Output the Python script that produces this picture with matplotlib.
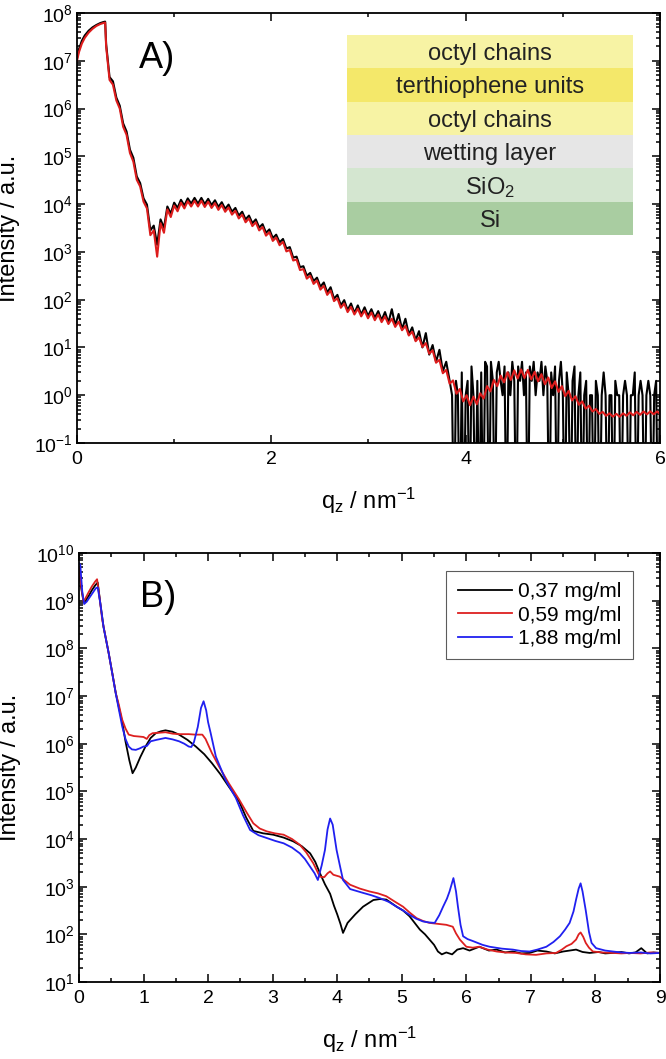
import numpy as np
import matplotlib
matplotlib.use("Agg")
import matplotlib.pyplot as plt
from matplotlib.patches import Rectangle
from matplotlib.ticker import LogLocator, MultipleLocator, NullFormatter

plt.rcParams['font.family'] = ['Liberation Sans', 'DejaVu Sans']
plt.rcParams['mathtext.fontset'] = 'custom'
plt.rcParams['mathtext.rm'] = 'Liberation Sans'
plt.rcParams['mathtext.it'] = 'Liberation Sans:italic'
plt.rcParams['mathtext.bf'] = 'Liberation Sans:bold'
plt.rcParams['mathtext.default'] = 'regular'
plt.rcParams['axes.unicode_minus'] = False

# ---------------- panel A : reflectivity + fit (log10 intensity) ----------------
# low-q part (below the critical edge)
low_q = [0.00, 0.02, 0.05, 0.08, 0.12, 0.16, 0.20, 0.24, 0.27, 0.29]
fit_low_log = [7.00, 7.18, 7.36, 7.48, 7.59, 7.67, 7.73, 7.77, 7.79, 7.80]
meas_low_log = [7.05, 7.24, 7.42, 7.53, 7.63, 7.70, 7.75, 7.79, 7.81, 7.82]

# fringe part, sampled every 0.035 nm^-1 starting at 0.30
fringe_q0 = 0.30
fringe_dq = 0.035
fit_fringe_log = [
    7.30, 6.60, 6.50, 6.17, 6.00, 5.62, 5.45, 5.07, 4.89, 4.51,
    4.37, 4.05, 3.91, 3.35, 3.45, 2.90, 3.60, 3.40, 3.89, 3.73,
    3.97, 3.85, 4.03, 3.91, 4.06, 3.95, 4.07, 3.95, 4.07, 3.94,
    4.05, 3.92, 4.02, 3.88, 3.98, 3.84, 3.93, 3.78, 3.86, 3.70,
    3.78, 3.62, 3.70, 3.54, 3.62, 3.45, 3.52, 3.34, 3.41, 3.23,
    3.30, 3.14, 3.21, 3.01, 3.04, 2.82, 2.84, 2.62, 2.64, 2.44,
    2.50, 2.33, 2.40, 2.21, 2.29, 2.10, 2.19, 1.97, 2.03, 1.83,
    1.92, 1.74, 1.85, 1.69, 1.81, 1.65, 1.77, 1.61, 1.73, 1.57,
    1.69, 1.53, 1.65, 1.49, 1.60, 1.43, 1.54, 1.36, 1.45, 1.25,
    1.33, 1.13, 1.21, 1.01, 1.09, 0.87, 0.94, 0.68, 0.74, 0.46,
    0.53, 0.24, 0.31, 0.03, 0.13, -0.13, 0.00, -0.21, -0.03, -0.19,
    0.04, -0.07, 0.19, 0.08, 0.32, 0.19, 0.41, 0.27, 0.48, 0.32,
    0.52, 0.35, 0.54, 0.36, 0.53, 0.33, 0.49, 0.29, 0.44, 0.23,
    0.37, 0.15, 0.29, 0.07, 0.19, -0.02, 0.09, -0.11, -0.02, -0.20,
    -0.13, -0.28, -0.22, -0.34, -0.29, -0.39, -0.35, -0.43, -0.38, -0.45,
    -0.39, -0.45, -0.38, -0.43, -0.36, -0.42, -0.35, -0.41, -0.34, -0.40,
    -0.34, -0.40, -0.34, -0.40,
]
meas_fringe_log = [
    7.35, 6.66, 6.57, 6.23, 6.06, 5.69, 5.52, 5.14, 4.97, 4.58,
    4.44, 4.12, 3.99, 3.45, 3.55, 3.15, 3.68, 3.50, 3.95, 3.80,
    4.03, 3.92, 4.09, 3.97, 4.12, 4.01, 4.13, 4.01, 4.13, 4.00,
    4.11, 3.98, 4.08, 3.94, 4.04, 3.90, 3.99, 3.84, 3.92, 3.76,
    3.84, 3.68, 3.76, 3.60, 3.68, 3.51, 3.58, 3.40, 3.47, 3.29,
    3.36, 3.20, 3.27, 3.07, 3.10, 2.88, 2.90, 2.68, 2.70, 2.50,
    2.56, 2.39, 2.46, 2.27, 2.36, 2.15, 2.26, 2.02, 2.10, 1.88,
    1.99, 1.78, 1.92, 1.72, 1.88, 1.69, 1.84, 1.66, 1.80, 1.62,
    1.76, 1.57, 1.74, 1.52, 1.80, 1.46, 1.70, 1.38, 1.60, 1.27,
    1.42, 1.15, 1.34, 1.00, 1.30, 0.85, 1.05, 0.70, 0.95, 0.50,
    0.70, 0.30,
]

# high-q tail of the measurement: raw counts every 0.02 nm^-1 from 3.86
tail_q0 = 3.86
tail_dq = 0.02
meas_tail_counts = [
    1, 0, 2, 1, 0, 3, 0, 1, 2, 0,
    4, 1, 0, 2, 0, 3, 0, 5, 4, 0,
    5, 2, 0, 3, 5, 2, 1, 4, 0, 3,
    1, 5, 2, 0, 4, 2, 5, 1, 3, 0,
    4, 2, 5, 1, 3, 2, 5, 1, 4, 2,
    0, 3, 1, 4, 0, 2, 5, 1, 0, 3,
    1, 0, 2, 4, 0, 1, 3, 0, 1, 2,
    0, 1, 1, 0, 2, 1, 0, 1, 3, 1,
    0, 1, 1, 0, 2, 1, 1, 0, 1, 2,
    1, 0, 1, 1, 3, 0, 1, 2, 1, 0,
    1, 2, 1, 0, 1, 2, 0, 1,
]

fit_q = low_q + list(fringe_q0 + fringe_dq * np.arange(len(fit_fringe_log)))
fit_I = 10.0 ** np.array(fit_low_log + fit_fringe_log)

meas_q = (low_q + list(fringe_q0 + fringe_dq * np.arange(len(meas_fringe_log)))
          + list(tail_q0 + tail_dq * np.arange(len(meas_tail_counts))))
meas_I = np.concatenate([10.0 ** np.array(meas_low_log + meas_fringe_log),
                         np.where(np.array(meas_tail_counts) > 0, meas_tail_counts, 1e-3)])

layer_names = ['octyl chains', 'terthiophene units', 'octyl chains',
               'wetting layer', 'SiO$_2$', 'Si']
layer_colors = ['#f7f3a4', '#f4e86a', '#f7f3a4', '#e6e6e6', '#d4e6d0', '#a9cda1']

# ---------------- panel B : three concentrations (log10 intensity) ----------------
labels_B = ['0,37 mg/ml', '0,59 mg/ml', '1,88 mg/ml']
colors_B = ['#000000', '#dd2020', '#2020f0']

q_037 = [0.00, 0.03, 0.07, 0.10, 0.15, 0.20, 0.25, 0.29, 0.33, 0.38,
         0.46, 0.52, 0.57, 0.62, 0.67, 0.72, 0.78, 0.83, 0.88, 0.95,
         1.03, 1.11, 1.19, 1.27, 1.34, 1.45, 1.55, 1.68, 1.81, 1.94,
         2.06, 2.19, 2.32, 2.48, 2.59, 2.70, 2.85, 3.01, 3.17, 3.32,
         3.45, 3.58, 3.66, 3.73, 3.81, 3.89, 3.95, 4.00, 4.05, 4.09,
         4.16, 4.28, 4.40, 4.56, 4.66, 4.76, 4.92, 5.02, 5.12, 5.20,
         5.28, 5.36, 5.43, 5.50, 5.56, 5.62, 5.69, 5.78, 5.86, 5.95,
         6.05, 6.20, 6.35, 6.47, 6.60, 6.72, 6.85, 6.98, 7.10, 7.24,
         7.37, 7.50, 7.60, 7.70, 7.80, 7.91, 8.05, 8.15, 8.27, 8.40,
         8.52, 8.62, 8.71, 8.80, 8.90, 9.00]
log_037 = [9.60, 9.30, 8.98, 9.00, 9.10, 9.22, 9.32, 9.38, 8.95, 8.45,
           7.90, 7.45, 7.06, 6.75, 6.45, 6.05, 5.65, 5.38, 5.50, 5.72,
           5.94, 6.12, 6.22, 6.26, 6.28, 6.25, 6.19, 6.08, 5.94, 5.78,
           5.59, 5.36, 5.10, 4.79, 4.45, 4.17, 4.12, 4.09, 4.03, 3.95,
           3.85, 3.70, 3.52, 3.29, 3.05, 2.85, 2.60, 2.42, 2.22, 2.03,
           2.24, 2.42, 2.58, 2.72, 2.74, 2.73, 2.58, 2.50, 2.38, 2.24,
           2.10, 2.00, 1.89, 1.78, 1.64, 1.58, 1.62, 1.58, 1.68, 1.71,
           1.66, 1.74, 1.66, 1.68, 1.62, 1.64, 1.60, 1.61, 1.66, 1.64,
           1.60, 1.64, 1.66, 1.68, 1.63, 1.61, 1.63, 1.60, 1.61, 1.63,
           1.60, 1.62, 1.71, 1.60, 1.62, 1.61]

q_059 = [0.00, 0.03, 0.07, 0.10, 0.15, 0.20, 0.25, 0.28, 0.32, 0.36,
         0.46, 0.57, 0.62, 0.67, 0.72, 0.77, 0.85, 0.93, 1.00, 1.05,
         1.09, 1.14, 1.25, 1.34, 1.45, 1.55, 1.70, 1.80, 1.91, 1.96,
         2.06, 2.17, 2.32, 2.48, 2.60, 2.70, 2.80, 2.91, 3.03, 3.17,
         3.30, 3.42, 3.52, 3.63, 3.73, 3.80, 3.85, 3.89, 3.94, 4.04,
         4.20, 4.35, 4.50, 4.63, 4.76, 4.90, 5.02, 5.12, 5.23, 5.33,
         5.43, 5.56, 5.69, 5.79, 5.84, 5.90, 6.00, 6.10, 6.20, 6.33,
         6.47, 6.60, 6.77, 6.92, 7.08, 7.24, 7.39, 7.48, 7.55, 7.63,
         7.70, 7.74, 7.77, 7.81, 7.85, 7.90, 7.96, 8.10, 8.27, 8.40,
         8.53, 8.70, 8.85, 9.00]
log_059 = [9.69, 9.35, 8.98, 9.05, 9.18, 9.30, 9.40, 9.45, 9.05, 8.60,
           7.90, 7.06, 6.80, 6.50, 6.32, 6.19, 6.16, 6.15, 6.14, 6.10,
           6.18, 6.22, 6.23, 6.24, 6.21, 6.20, 6.20, 6.19, 6.19, 6.10,
           5.80, 5.52, 5.17, 4.83, 4.55, 4.33, 4.22, 4.16, 4.12, 4.09,
           4.00, 3.88, 3.72, 3.49, 3.21, 3.20, 3.28, 3.32, 3.25, 3.21,
           3.04, 2.96, 2.90, 2.86, 2.80, 2.68, 2.58, 2.46, 2.34, 2.28,
           2.24, 2.22, 2.20, 2.16, 2.02, 1.89, 1.74, 1.72, 1.74, 1.68,
           1.64, 1.62, 1.61, 1.58, 1.57, 1.60, 1.61, 1.68, 1.75, 1.80,
           1.89, 2.00, 2.04, 1.95, 1.82, 1.72, 1.64, 1.62, 1.61, 1.60,
           1.61, 1.60, 1.62, 1.61]

q_188 = [0.00, 0.02, 0.05, 0.08, 0.12, 0.17, 0.22, 0.26, 0.29, 0.33,
         0.38, 0.46, 0.57, 0.62, 0.67, 0.72, 0.77, 0.82, 0.88, 0.94,
         1.00, 1.05, 1.11, 1.20, 1.34, 1.45, 1.55, 1.63, 1.70, 1.74,
         1.78, 1.84, 1.89, 1.93, 1.97, 2.00, 2.04, 2.12, 2.27, 2.43,
         2.54, 2.65, 2.78, 2.91, 3.04, 3.17, 3.30, 3.42, 3.50, 3.58,
         3.65, 3.70, 3.76, 3.81, 3.85, 3.89, 3.93, 3.99, 4.04, 4.09,
         4.20, 4.40, 4.53, 4.66, 4.80, 4.92, 5.02, 5.12, 5.22, 5.33,
         5.42, 5.51, 5.58, 5.64, 5.70, 5.74, 5.80, 5.84, 5.87, 5.91,
         5.95, 6.02, 6.10, 6.25, 6.36, 6.55, 6.72, 6.85, 6.98, 7.10,
         7.24, 7.35, 7.45, 7.53, 7.60, 7.66, 7.70, 7.74, 7.77, 7.80,
         7.85, 7.90, 7.94, 8.01, 8.15, 8.27, 8.40, 8.53, 8.70, 8.85,
         9.00]
log_188 = [9.79, 9.75, 9.20, 8.93, 8.98, 9.08, 9.18, 9.26, 9.28, 8.95,
           8.45, 7.90, 7.05, 6.70, 6.36, 6.10, 5.94, 5.88, 5.87, 5.90,
           5.94, 5.95, 6.05, 6.08, 6.12, 6.09, 6.05, 6.00, 5.94, 5.93,
           6.03, 6.35, 6.75, 6.89, 6.70, 6.45, 6.22, 5.73, 5.24, 4.86,
           4.50, 4.19, 4.08, 4.02, 3.96, 3.91, 3.82, 3.70, 3.58, 3.42,
           3.28, 3.14, 3.45, 3.77, 4.20, 4.43, 4.30, 3.77, 3.45, 3.14,
           2.95, 2.87, 2.82, 2.76, 2.68, 2.58, 2.50, 2.41, 2.33, 2.27,
           2.25, 2.24, 2.40, 2.58, 2.75, 2.90, 3.18, 2.90, 2.58, 2.20,
           1.96, 1.90, 1.86, 1.78, 1.74, 1.70, 1.68, 1.65, 1.64, 1.68,
           1.74, 1.84, 1.96, 2.10, 2.24, 2.48, 2.73, 2.96, 3.07, 2.90,
           2.50, 2.05, 1.82, 1.71, 1.66, 1.64, 1.62, 1.61, 1.62, 1.60,
           1.61]

series_B = [(q_037, log_037), (q_059, log_059), (q_188, log_188)]


def style_axes(ax):
    ax.set_yscale('log')
    ax.tick_params(which='both', direction='in', top=True, right=True,
                   width=1.1, labelsize=14, colors='black')
    ax.tick_params(which='major', length=6)
    ax.tick_params(which='minor', length=3)
    ax.tick_params(axis='x', pad=6)
    ax.tick_params(axis='y', pad=3)
    ax.yaxis.set_minor_locator(LogLocator(base=10, subs=np.arange(2, 10), numticks=30))
    ax.yaxis.set_minor_formatter(NullFormatter())
    for s in ax.spines.values():
        s.set_linewidth(1.3)


fig = plt.figure(figsize=(6.66, 10.59), dpi=100)

# ---- A ----
axA = fig.add_axes([0.1156, 0.5817, 0.8754, 0.406])
axA.plot(meas_q, meas_I, color='black', lw=1.5)
axA.plot(fit_q, fit_I, color='#dd1c1c', lw=1.5)
style_axes(axA)
axA.set_xlim(0, 6)
axA.set_ylim(1e-1, 1e8)
axA.set_yticks([10.0 ** e for e in range(-1, 9)])
axA.xaxis.set_major_locator(MultipleLocator(2))
axA.xaxis.set_minor_locator(MultipleLocator(1))
axA.set_xlabel('q$_z$ / nm$^{-1}$', fontsize=17)
axA.set_ylabel('Intensity / a.u.', fontsize=17)
axA.xaxis.set_label_coords(0.5, -0.10)
axA.yaxis.set_label_coords(-0.098, 0.5)
axA.text(0.137, 0.895, 'A)', transform=axA.transAxes, fontsize=26,
         ha='center', va='center')

box_x0, box_x1, box_top, row_h = 0.463, 0.954, 0.949, 0.0775
for i, (name, col) in enumerate(zip(layer_names, layer_colors)):
    y0 = box_top - (i + 1) * row_h
    axA.add_patch(Rectangle((box_x0, y0), box_x1 - box_x0, row_h,
                            transform=axA.transAxes, facecolor=col,
                            edgecolor='none', zorder=3))
    axA.text((box_x0 + box_x1) / 2, y0 + row_h / 2, name,
             transform=axA.transAxes, ha='center', va='center_baseline',
             fontsize=17, color='#222222', zorder=4)

# ---- B ----
axB = fig.add_axes([0.1186, 0.0727, 0.8724, 0.4051])
for (q, lg), lab, col in zip(series_B, labels_B, colors_B):
    axB.plot(q, 10.0 ** np.array(lg), color=col, lw=1.3, label=lab)
style_axes(axB)
axB.set_xlim(0, 9)
axB.set_ylim(1e1, 1e10)
axB.set_yticks([10.0 ** e for e in range(1, 11)])
axB.xaxis.set_major_locator(MultipleLocator(1))
axB.xaxis.set_minor_locator(MultipleLocator(0.5))
axB.set_xlabel('q$_z$ / nm$^{-1}$', fontsize=17)
axB.set_ylabel('Intensity / a.u.', fontsize=17)
axB.xaxis.set_label_coords(0.5, -0.10)
axB.yaxis.set_label_coords(-0.10, 0.5)
axB.text(0.136, 0.897, 'B)', transform=axB.transAxes, fontsize=26,
         ha='center', va='center')

leg = axB.legend(loc='upper right', bbox_to_anchor=(0.9535, 0.958),
                 borderaxespad=0, fontsize=15, handlelength=2.6,
                 handletextpad=0.3, labelspacing=0.2, frameon=True,
                 fancybox=False, edgecolor='#333333', borderpad=0.55)
leg.get_frame().set_linewidth(0.8)

fig.savefig('out.png', dpi=100)
